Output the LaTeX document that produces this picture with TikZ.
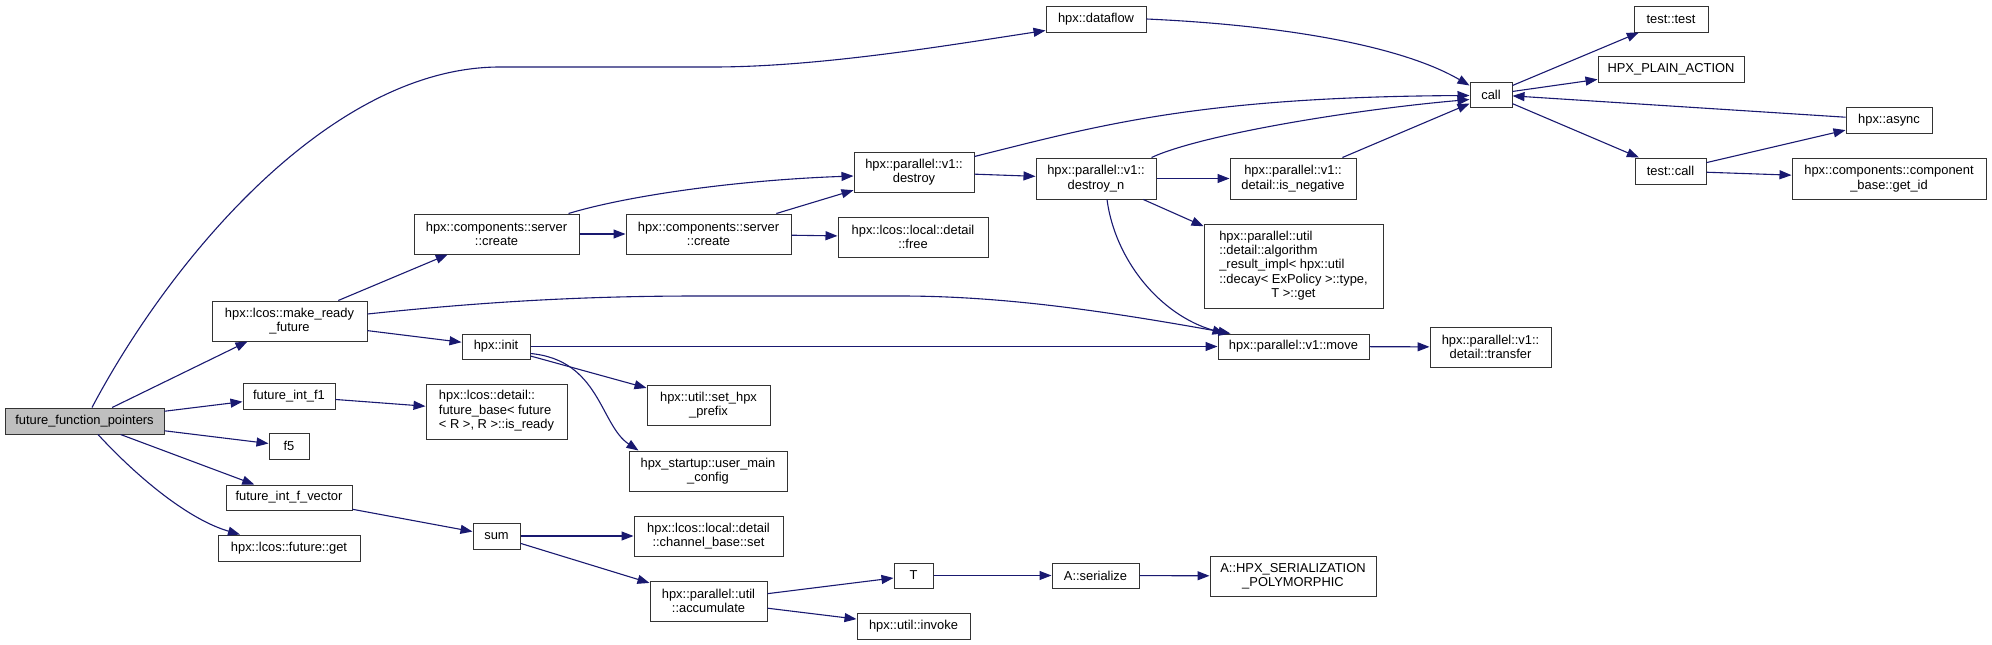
\documentclass[tikz,border=0pt]{standalone}
\usepackage{fontspec}
\setmainfont{Liberation Sans}
\usetikzlibrary{arrows.meta,calc}
\definecolor{edgeblue}{HTML}{191970}
\definecolor{nodegray}{HTML}{BFBFBF}
\definecolor{boxline}{HTML}{333333}
\tikzset{
  box/.style={draw=boxline, line width=1pt, fill=white, inner sep=0pt,
    font=\fontsize{12.9}{14.4}\selectfont, align=center, minimum height=26pt},
  box2/.style={box, minimum height=40pt},
  edge/.style={draw=edgeblue, line width=1.1pt, -{Triangle[length=12pt,width=9pt]}}
}
\begin{document}
\begin{tikzpicture}[x=1pt,y=-1pt]
\useasboundingbox (0,0) rectangle (1992,645);
% nodes
\node[box, fill=nodegray, minimum width=159pt] (ffp) at (84.5,421) {future\_function\_pointers};
\node[box, minimum width=100pt] (dataflow) at (1096,19) {hpx::dataflow};
\node[box, minimum width=42pt, minimum height=25pt] (call) at (1491,94.5) {call};
\node[box, minimum width=74pt] (testtest) at (1671,19) {test::test};
\node[box, minimum width=146pt] (plain) at (1671,69) {HPX\_PLAIN\_ACTION};
\node[box, minimum width=86pt] (async) at (1889,120) {hpx::async};
\node[box, minimum width=71pt] (testcall) at (1670.5,171) {test::call};
\node[box2, minimum width=194pt, minimum height=41pt] (getid) at (1889,178.5) {hpx::components::component\\\_base::get\_id};
\node[box2, minimum width=120pt] (destroy) at (914,172) {hpx::parallel::v1::\\destroy};
\node[box2, minimum width=120pt, minimum height=41pt] (destroyn) at (1096,178.5) {hpx::parallel::v1::\\destroy\_n};
\node[box2, minimum width=126pt, minimum height=41pt] (isneg) at (1293,178.5) {hpx::parallel::v1::\\detail::is\_negative};
\node[box, minimum width=179pt, minimum height=84pt] (algo) at (1293.5,266) {\begin{tabular}{@{}l@{}}hpx::parallel::util\\::detail::algorithm\\\_result\_impl< hpx::util\\::decay< ExPolicy >::type,\\\multicolumn{1}{@{}c@{}}{T >::get}\end{tabular}};
\node[box, minimum width=151pt, minimum height=25pt] (move) at (1293.5,346.5) {hpx::parallel::v1::move};
\node[box2, minimum width=121pt] (transfer) at (1490.5,347) {hpx::parallel::v1::\\detail::transfer};
\node[box2, minimum width=165pt] (create1) at (496.5,234) {hpx::components::server\\::create};
\node[box2, minimum width=165pt] (create2) at (708.5,234) {hpx::components::server\\::create};
\node[box2, minimum width=150pt] (free) at (913,237) {hpx::lcos::local::detail\\::free};
\node[box2, minimum width=155pt] (mrf) at (289.5,321) {hpx::lcos::make\_ready\\\_future};
\node[box, minimum width=68pt, minimum height=25pt] (init) at (496,346.5) {hpx::init};
\node[box2, minimum width=123pt] (prefix) at (708.5,405) {hpx::util::set\_hpx\\\_prefix};
\node[box2, minimum width=158pt] (umc) at (708,471) {hpx\_startup::user\_main\\\_config};
\node[box, minimum width=92pt] (f1) at (289,396) {future\_int\_f1};
\node[box, minimum width=141pt, minimum height=55pt] (fbase) at (496.5,411.5) {\begin{tabular}{@{}l@{}}hpx::lcos::detail::\\future\_base< future\\< R >, R >::is\_ready\end{tabular}};
\node[box, minimum width=40pt] (f5) at (289,446) {f5};
\node[box, minimum width=126pt, minimum height=25pt] (fvec) at (289,497.5) {future\_int\_f\_vector};
\node[box, minimum width=142pt] (fget) at (289,548) {hpx::lcos::future::get};
\node[box, minimum width=47pt] (sum) at (496.5,536) {sum};
\node[box2, minimum width=149pt] (chset) at (708.5,536) {hpx::lcos::local::detail\\::channel\_base::set};
\node[box2, minimum width=117pt] (accum) at (708.5,601) {hpx::parallel::util\\::accumulate};
\node[box, minimum width=39pt, minimum height=25pt] (T) at (913.5,575.5) {T};
\node[box, minimum width=113pt] (invoke) at (913.5,626) {hpx::util::invoke};
\node[box, minimum width=87pt, minimum height=25pt] (serialize) at (1095.5,575.5) {A::serialize};
\node[box2, minimum width=166pt] (poly) at (1293,576) {A::HPX\_SERIALIZATION\\\_POLYMORPHIC};
% curved edges
\draw[edge] ($(ffp.north)+(7.5,0)$) .. controls (170,260) and (330,67) .. (500,67) -- (713,67) .. controls (820,67) and (950,45) .. ($(dataflow.south west)+(0,-2)$);
\draw[edge] (dataflow.east) .. controls (1280,25) and (1400,45) .. ($(call.west)+(0,-9)$);
\draw[edge] ($(destroy.north east)+(0,5)$) .. controls (1100,125) and (1200,97) .. ($(call.west)+(0,1)$);
\draw[edge] ($(destroyn.north east)+(-5,0)$) .. controls (1200,135) and (1350,110) .. ($(call.west)+(0,5)$);
\draw[edge] ($(create1.north east)+(-11,0)$) .. controls (630,195) and (740,180) .. ($(destroy.west)+(0,4)$);
\draw[edge] ($(destroyn.south)+(11,0)$) .. controls (1115,260) and (1160,315) .. ($(move.north west)+(7,0)$);
\draw[edge] ($(mrf.east)+(0,-7)$) .. controls (500,300) and (600,296) .. (700,296) -- (900,296) .. controls (1000,296) and (1100,310) .. ($(move.north west)+(13,0)$);
\draw[edge] ($(init.east)+(0,7)$) .. controls (600,360) and (600,425) .. ($(umc.north west)+(10,0)$);
\draw[edge] ($(ffp.south)+(13.5,0)$) .. controls (140,480) and (190,520) .. ($(fget.north)+(-49,0)$);
% straight edges
\foreach \a/\b in {ffp/mrf, ffp/f1, ffp/f5, ffp/fvec, mrf/create1, mrf/init, create1/create2,
  create2/destroy, create2/free, destroy/destroyn, destroyn/isneg, destroyn/algo, isneg/call,
  call/testtest, call/plain, async/call, call/testcall, testcall/async, testcall/getid,
  init/move, init/prefix, move/transfer, f1/fbase, fvec/sum, sum/chset, sum/accum,
  accum/T, accum/invoke, T/serialize, serialize/poly}
  \draw[edge] (\a) -- (\b);
\end{tikzpicture}
\end{document}
